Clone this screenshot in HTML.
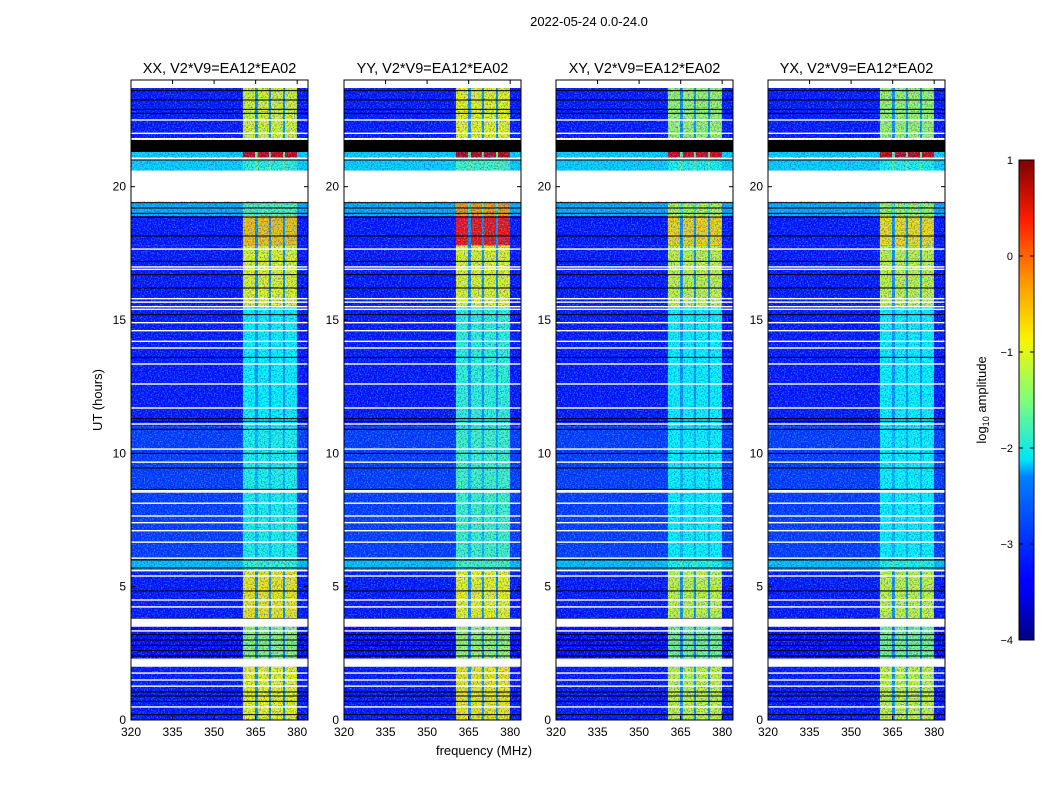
<!DOCTYPE html>
<html><head><meta charset="utf-8">
<style>
body{margin:0;background:#fff;width:1050px;height:800px;overflow:hidden;font-family:"Liberation Sans",sans-serif;}
svg text{font-family:"Liberation Sans",sans-serif;}
</style></head>
<body>
<svg id="fig" width="1050" height="800">
<defs>
<filter id="noiseL" x="0" y="0" width="100%" height="100%">
<feTurbulence type="fractalNoise" baseFrequency="0.7" numOctaves="2" seed="3"/>
<feColorMatrix type="matrix" values="0 0 0 0 0.1  0 0 0 0 0.75  0 0 0 0 1  3.5 0 0 0 -1.6"/>
</filter>
<filter id="noiseD" x="0" y="0" width="100%" height="100%">
<feTurbulence type="fractalNoise" baseFrequency="0.7" numOctaves="2" seed="9"/>
<feColorMatrix type="matrix" values="0 0 0 0 0  0 0 0 0 0  0 0 0 0 0.5  3.5 0 0 0 -1.6"/>
</filter>
<linearGradient id="jet" x1="0" y1="1" x2="0" y2="0">
<stop offset="0" stop-color="#00007f"/><stop offset="0.11" stop-color="#0000ff"/>
<stop offset="0.125" stop-color="#0000ff"/><stop offset="0.34" stop-color="#0080ff"/>
<stop offset="0.375" stop-color="#00e4f8"/><stop offset="0.5" stop-color="#7dff7a"/>
<stop offset="0.625" stop-color="#f8f500"/><stop offset="0.75" stop-color="#ff9400"/>
<stop offset="0.875" stop-color="#ff1d00"/><stop offset="1" stop-color="#7f0000"/>
</linearGradient>
</defs>
<text x="589" y="26" font-size="13" text-anchor="middle">2022-05-24 0.0-24.0</text>
<text x="484" y="755" font-size="13" text-anchor="middle">frequency (MHz)</text>
<text x="0" y="0" font-size="13" text-anchor="middle" transform="translate(102,400) rotate(-90)">UT (hours)</text>
<g id="panels"></g>
<g>
<rect x="1019" y="160" width="15" height="480" fill="url(#jet)" stroke="#000" stroke-width="1"/>
<g id="cbticks"></g>
<text x="0" y="0" font-size="13" text-anchor="middle" transform="translate(986,400) rotate(-90)">log<tspan font-size="9" dy="3">10</tspan><tspan dy="-3"> amplitude</tspan></text>
</g>
</svg>
<script>
const titles=["XX, V2*V9=EA12*EA02","YY, V2*V9=EA12*EA02","XY, V2*V9=EA12*EA02","YX, V2*V9=EA12*EA02"];
const segStart=[21.8,21.1,20.6,18.9,17.8,15.5,11.0,6.0,5.6,3.8,2.3,0.0];
const segEnd=[23.7,21.3,21.05,19.4,18.9,17.8,15.5,11.0,6.0,5.6,3.5,2.0];
const segBg=[-3.3,-2.3,-2.3,-2.5,-3.3,-3.3,-3.3,-3.1,-2.4,-3.3,-3.4,-3.3];
const bandXX=[-1.0,0.6,-1.9,-1.7,-0.6,-0.95,-2.1,-2.0,-1.9,-0.8,-1.4,-0.9];
const bandYY=[-0.9,0.7,-1.8,-0.4,0.3,-0.95,-1.9,-1.8,-1.8,-0.9,-1.3,-0.8];
const bandXY=[-1.3,0.5,-2.0,-1.2,-0.7,-1.1,-2.1,-2.1,-2.0,-1.1,-1.5,-1.1];
const bandYX=[-1.3,0.6,-2.0,-1.3,-0.75,-1.1,-2.1,-2.1,-2.0,-1.1,-1.5,-1.1];
const bands=[bandXX,bandYY,bandXY,bandYX];
const subStart=[360.4,365.8,370.5,375.6];
const subEnd=[364.8,369.8,374.9,379.9];
const flagStart=[23.7,19.45,3.5,2.0];
const flagEnd=[24.0,20.6,3.8,2.3];
const blackBlockStart=[21.3];
const blackBlockEnd=[21.75];
const whiteLines=[22.5,22.0,21.8,21.05,17.66,16.99,16.9,15.8,15.67,15.5,15.4,14.9,14.6,14.2,13.95,13.35,12.6,11.7,11.1,10.16,9.67,8.6,8.55,8.13,7.65,7.4,7.1,6.67,6.07,5.6,5.4,4.5,4.24,3.34,1.76,1.5,1.27,0.49];
const blackLines=[23.6,23.25,22.9,22.75,21.0,19.4,19.2,19.0,18.86,18.15,17.2,16.7,16.2,15.2,13.6,11.3,11.2,10.9,10.0,9.45,8.65,6.0,5.7,4.84,3.8,3.2,3.0,2.8,2.6,2.4,1.05,0.9,0.7,0.2];
const xTicks=[320,335,350,365,380];
const yTicks=[0,5,10,15,20];
const cbTicks=[1,0,-1,-2,-3,-4];
const panelX=[131,344,556,768];

function jet(v){let t=(v+4)/5;t=Math.max(0,Math.min(1,t));
 const r=Math.max(0,Math.min(1,1.5-Math.abs(4*t-3))),g=Math.max(0,Math.min(1,1.5-Math.abs(4*t-2))),b=Math.max(0,Math.min(1,1.5-Math.abs(4*t-1)));
 return `rgb(${Math.round(r*255)},${Math.round(g*255)},${Math.round(b*255)})`;}
const NS="http://www.w3.org/2000/svg";
function mk(tag,attrs,parent){const e=document.createElementNS(NS,tag);for(const k in attrs)e.setAttribute(k,attrs[k]);parent.appendChild(e);return e;}
const PY0=80,PY1=720,PW=177,F0=320,F1=383.9,H1=24;
const root=document.getElementById('panels');
panelX.forEach((x0,p)=>{
 const xs=f=>x0+(f-F0)/(F1-F0)*PW;
 const ys=h=>PY1-h/H1*(PY1-PY0);
 const g=mk('g',{},root);
 
 
 mk('clipPath',{id:'c'+p},g);
 mk('rect',{x:x0,y:PY0,width:PW,height:PY1-PY0},g.lastChild);
 const hm=mk('g',{'clip-path':`url(#c${p})`},g);
 mk('rect',{x:x0,y:PY0,width:PW,height:PY1-PY0,fill:'#fff'},hm);
 segStart.forEach((s,i)=>{
  const e=segEnd[i];
  const r=mk('rect',{x:x0,y:ys(e),width:PW,height:ys(s)-ys(e),fill:jet(segBg[i])},hm);
  
  
  subStart.forEach((fs,j)=>{
   const c=mk('rect',{x:xs(fs),y:ys(e),width:xs(subEnd[j])-xs(fs),height:ys(s)-ys(e),fill:jet(bands[p][i])},hm);
   
   
   if(j<subStart.length-1){mk('rect',{x:xs(subEnd[j]),y:ys(e),width:xs(subStart[j+1])-xs(subEnd[j]),height:ys(s)-ys(e),fill:jet(segBg[i]+0.7)},hm);}
  });
 });
 mk('rect',{x:x0,y:PY0,width:PW,height:PY1-PY0,filter:'url(#noiseL)',opacity:0.5},hm);
 mk('rect',{x:x0,y:PY0,width:PW,height:PY1-PY0,filter:'url(#noiseD)',opacity:0.45},hm);
 blackBlockStart.forEach((s,i)=>{mk('rect',{x:x0,y:ys(blackBlockEnd[i]),width:PW,height:ys(s)-ys(blackBlockEnd[i]),fill:'#000'},hm);});
 blackLines.forEach(h=>{const l=mk('rect',{x:x0,y:ys(h)-0.5,width:PW,height:1,fill:'#000'},hm);});
 whiteLines.forEach(h=>{const l=mk('rect',{x:x0,y:ys(h)-0.7,width:PW,height:1.4,fill:'#fff'},hm);});
 flagStart.forEach((s,i)=>{const l=mk('rect',{x:x0,y:ys(flagEnd[i]),width:PW,height:ys(s)-ys(flagEnd[i]),fill:'#fff'},hm);});
 mk('rect',{x:x0,y:PY0,width:PW,height:PY1-PY0,fill:'none',stroke:'#000','stroke-width':1},g);
 xTicks.forEach(t=>{const X=xs(t);
  mk('line',{x1:X,x2:X,y1:PY1,y2:PY1-4,stroke:'#000'},g);mk('line',{x1:X,x2:X,y1:PY0,y2:PY0+4,stroke:'#000'},g);
  const tx=mk('text',{x:X,y:PY1+16,'font-size':12,'text-anchor':'middle'},g);tx.textContent=t;
  });
 yTicks.forEach(t=>{const Y=ys(t);
  mk('line',{x1:x0,x2:x0+4,y1:Y,y2:Y,stroke:'#000'},g);mk('line',{x1:x0+PW,x2:x0+PW-4,y1:Y,y2:Y,stroke:'#000'},g);
  const tx=mk('text',{x:x0-5,y:Y+4,'font-size':12,'text-anchor':'end'},g);tx.textContent=t;
  });
 const tt=mk('text',{x:x0+PW/2,y:73,'font-size':14.5,'text-anchor':'middle'},g);tt.textContent=titles[p];
 
});
const cb=document.getElementById('cbticks');
cbTicks.forEach(v=>{const Y=640-(v+4)/5*480;
 mk('line',{x1:1019,x2:1023,y1:Y,y2:Y,stroke:'#000'},cb);mk('line',{x1:1034,x2:1030,y1:Y,y2:Y,stroke:'#000'},cb);
 const tx=mk('text',{x:1013,y:Y+4,'font-size':11,'text-anchor':'end'},cb);tx.textContent=(v<0?'\u2212'+(-v):v);
 });
</script>
</body></html>
